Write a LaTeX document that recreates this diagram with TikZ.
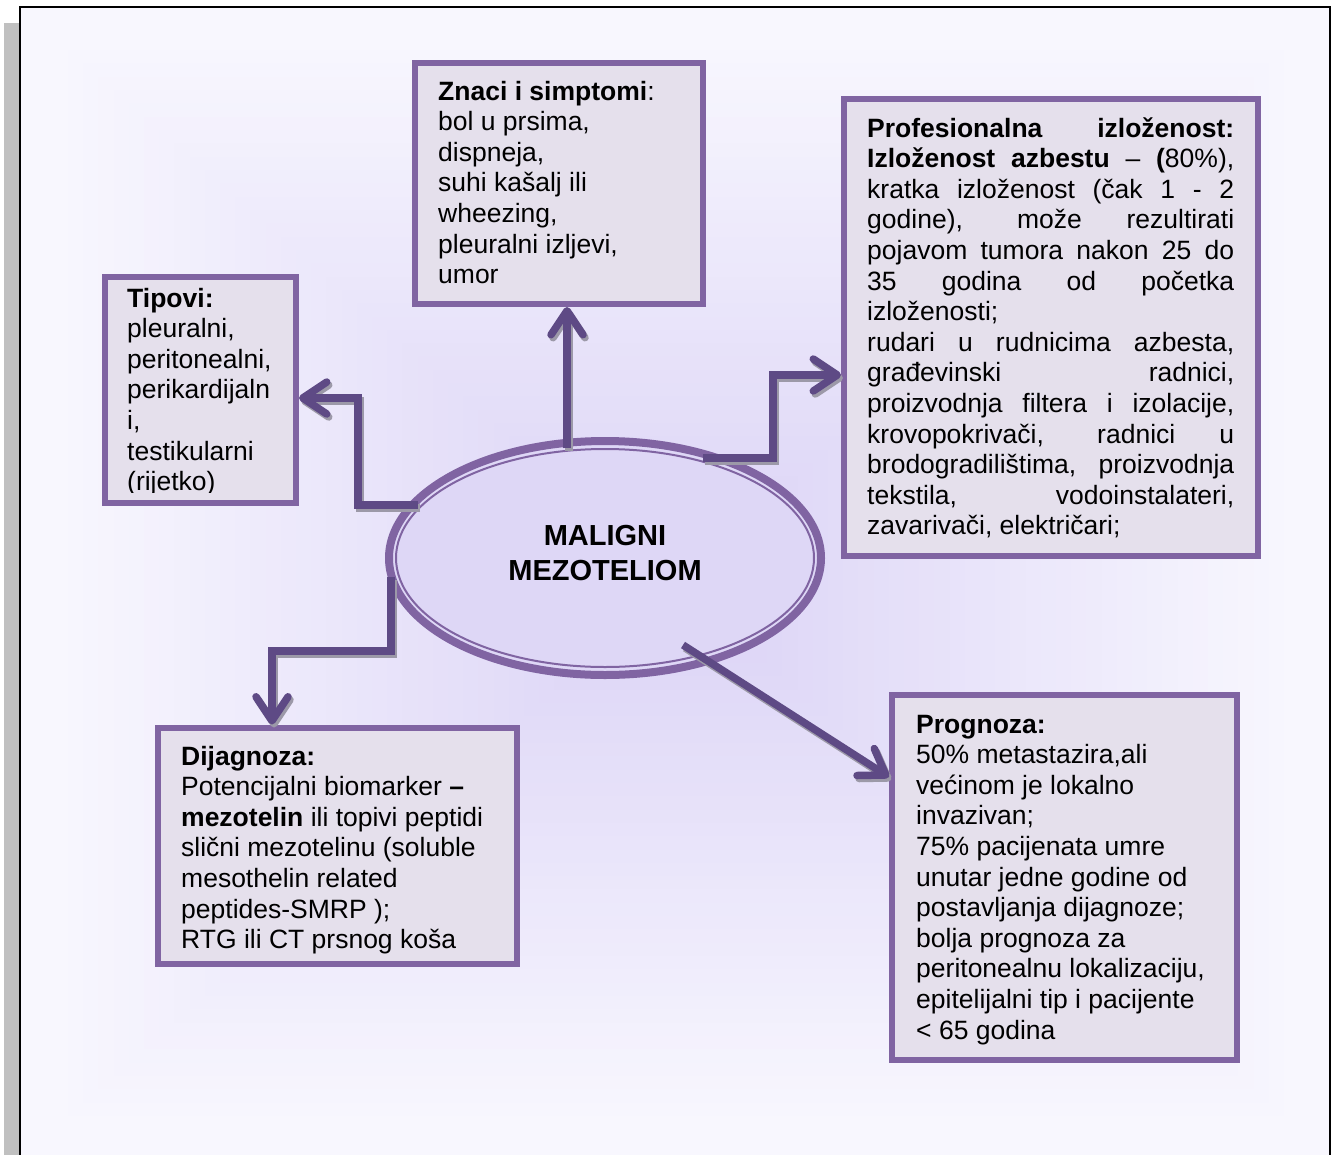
\documentclass[tikz,border=0pt]{standalone}
\usepackage{fontspec}
\setmainfont{Liberation Sans}
\usetikzlibrary{arrows.meta,shapes.geometric}
\hyphenpenalty=10000
\exhyphenpenalty=10000

\definecolor{framefill}{HTML}{F8F7FE}
\definecolor{shadowbar}{HTML}{C0C0C0}
\definecolor{glowout}{HTML}{F7F6FE}
\definecolor{glowin}{HTML}{DBD3F6}
\definecolor{boxline}{HTML}{8064A2}
\definecolor{boxfill}{HTML}{E5E0EC}
\definecolor{ellfill}{HTML}{DED7F6}
\definecolor{arrowcol}{HTML}{5E4A85}
\definecolor{arrowshade}{HTML}{9C99A8}

\begin{document}
\begin{tikzpicture}[x=1pt,y=-1pt,
  infobox/.style={rectangle, draw=boxline, line width=6pt, fill=boxfill, inner sep=0pt},
  bodytext/.style={anchor=base west, inner sep=0pt, font=\fontsize{26.5pt}{30.6pt}\selectfont},
  tipstyle/.style={-{Straight Barb[length=24pt,width=32pt,round]}},
  conn/.style={draw=arrowcol, line width=7.5pt, tipstyle},
  connshade/.style={draw=arrowshade, line width=7.5pt, tipstyle, transform canvas={xshift=2pt,yshift=-3pt}},
]
\useasboundingbox (0,0) rectangle (1333,1154);
\clip (0,0) rectangle (1333,1154);

% page frame with its grey shadow strip
\fill[shadowbar] (4,23) rectangle (20,1170);
\draw[line width=1.5pt, fill=framefill] (20,7) rectangle (1330,1170);

% rectangular lavender glow behind the diagram
\foreach \i in {0,...,39}{
  \pgfmathsetmacro\f{1-\i/40}
  \pgfmathsetmacro\p{100*\i/39}
  \fill[glowin!\p!glowout] ({676-608*\f},{583-533*\f}) rectangle ({676+608*\f},{583+533*\f});
}

% central ellipse (thick outer line, thin inner line)
\node[ellipse, draw=boxline, line width=8pt, fill=ellfill, minimum width=432pt, minimum height=234pt, inner sep=0pt] (mm) at (605,558) {};
\draw[boxline, line width=2pt] (mm.center) ellipse [x radius=209pt, y radius=109pt];

% information boxes
\node[infobox, minimum width=288pt, minimum height=241pt] (znaci) at (559,183.5) {};
\node[infobox, minimum width=191pt, minimum height=226pt] (tipovi) at (200.5,389.5) {};
\node[infobox, minimum width=414pt, minimum height=457pt] (prof) at (1051,327.5) {};
\node[infobox, minimum width=359pt, minimum height=236.5pt] (dija) at (337,845.75) {};
\node[infobox, minimum width=344.5pt, minimum height=365pt] (prog) at (1064.25,877.5) {};

% connector start points on the ellipse
\coordinate (tipstart) at (418,505);
\coordinate (znacistart) at (567,448);
\coordinate (profstart) at (703,458);
\coordinate (diastart) at (391,577);
\coordinate (progstart) at (683,645);

\foreach \s in {connshade,conn}{
  \draw[\s] (tipstart) -- (358,505) -- (358,398) -- (tipovi.east |- 0,398);
  \draw[\s] (znacistart) -- (znacistart |- znaci.south);
  \draw[\s] (profstart) -- (773,458) -- (773,375) -- (prof.west |- 0,375);
  \draw[\s] (diastart) -- (391,651) -- (272,651) -- (272,651 |- dija.north);
  \draw[\s] (progstart) -- (prog.west |- 0,777);
}

% texts
\node[anchor=base, inner sep=0pt, font=\bfseries\fontsize{29pt}{35pt}\selectfont] (mmtxt) at (605,545)
  {\parbox[t]{300pt}{\centering MALIGNI\\MEZOTELIOM}};

\node[bodytext] (znacitxt) at (438,100) {\parbox[t]{260pt}{\raggedright
  \textbf{Znaci i simptomi}:\\
  bol u prsima,\\
  dispneja,\\
  suhi kašalj ili\\
  wheezing,\\
  pleuralni izljevi,\\
  umor}};

% the text frame of the types box cuts off the bottom of its last line
\begin{scope}
  \clip (105,280) rectangle (296,492.5);
  \node[bodytext] (tipovitxt) at (127,307) {\parbox[t]{165pt}{\raggedright
    \textbf{Tipovi:}\\
    pleuralni,\\
    peritonealni,\\
    perikardijaln\\
    i,\\
    testikularni\\
    (rijetko)}};
\end{scope}

\node[bodytext] (proftxt) at (867,137) {\parbox[t]{367pt}{\tolerance=10000\hbadness=10000
  \textbf{Profesionalna izloženost:}\linebreak
  \textbf{Izloženost azbestu} – \textbf{(}80\%),\linebreak
  kratka izloženost (čak 1 - 2\linebreak
  godine), može rezultirati\linebreak
  pojavom tumora nakon 25 do\linebreak
  35 godina od početka\linebreak
  izloženosti;\par
  rudari u rudnicima azbesta,\linebreak
  građevinski radnici,\linebreak
  proizvodnja filtera i izolacije,\linebreak
  krovopokrivači, radnici u\linebreak
  brodogradilištima, proizvodnja\linebreak
  tekstila, vodoinstalateri,\linebreak
  zavarivači, električari;}};

\node[bodytext] (dijatxt) at (181,765) {\parbox[t]{330pt}{\raggedright
  \textbf{Dijagnoza:}\\
  Potencijalni biomarker \textbf{–}\\
  \textbf{mezotelin} ili topivi peptidi\\
  slični mezotelinu (soluble\\
  mesothelin related\\
  peptides-SMRP );\\
  RTG ili CT prsnog koša}};

\node[bodytext] (progtxt) at (916,733) {\parbox[t]{320pt}{\raggedright
  \textbf{Prognoza:}\\
  50\% metastazira,ali\\
  većinom je lokalno\\
  invazivan;\\
  75\% pacijenata umre\\
  unutar jedne godine od\\
  postavljanja dijagnoze;\\
  bolja prognoza za\\
  peritonealnu lokalizaciju,\\
  epitelijalni tip i pacijente\\
  < 65 godina}};

\end{tikzpicture}
\end{document}
